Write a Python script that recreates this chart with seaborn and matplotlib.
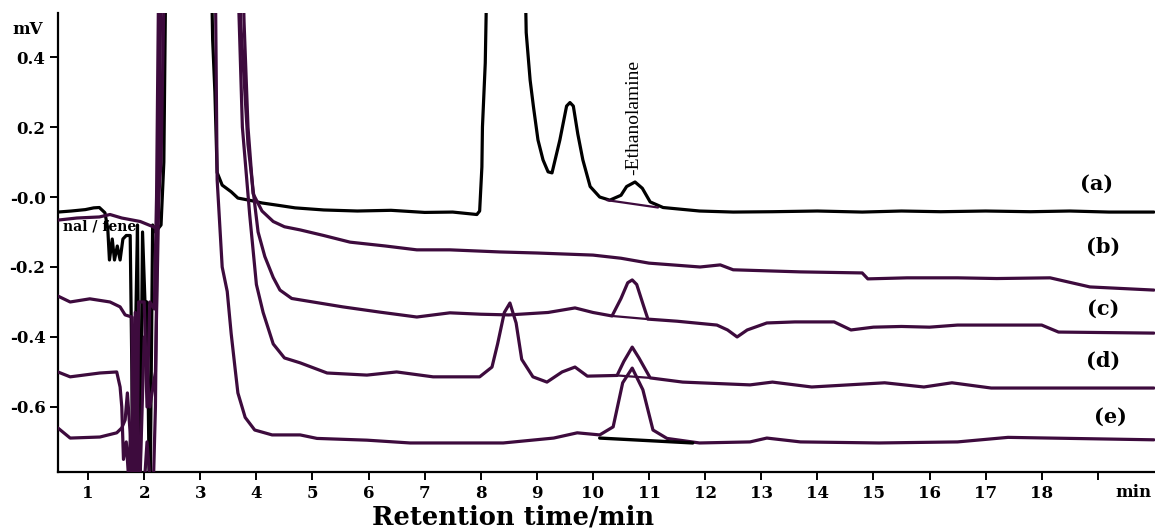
import matplotlib
matplotlib.use("Agg")
import matplotlib.pyplot as plt
import matplotlib.transforms as mtransforms
import seaborn as sns

# ---------------- data (retention time / min, signal / mV) ----------------
a_time = [0.46,0.70,0.95,1.10,1.20,1.30,1.35,1.38,1.43,1.47,1.52,1.57,1.62,1.68,1.75,1.78,1.80,1.85,1.88,1.92,
          1.97,2.02,2.05,2.10,2.15,2.20,2.30,2.35,2.40,2.45,3.10,3.17,3.22,3.26,3.30,3.39,3.55,3.67,3.90,4.10,
          4.40,4.69,5.20,5.80,6.40,7.00,7.50,7.93,7.98,8.02,8.03,8.08,8.15,8.75,8.81,8.88,8.94,9.02,9.11,9.20,
          9.27,9.41,9.53,9.59,9.65,9.73,9.82,9.95,10.12,10.30,10.50,10.60,10.75,10.88,11.02,11.25,11.90,12.50,
          13.20,14.00,14.80,15.50,16.20,17.00,17.80,18.50,19.20,20.00]
a_mv = [-0.043,-0.040,-0.036,-0.031,-0.030,-0.045,-0.090,-0.180,-0.120,-0.180,-0.140,-0.180,-0.120,-0.110,-0.110,
        -0.500,-0.950,-0.350,-0.080,-0.950,-0.100,-0.330,-0.300,-0.950,-0.080,-0.100,-0.080,0.100,0.900,1.000,
        1.000,0.900,0.450,0.300,0.070,0.034,0.015,-0.003,-0.010,-0.017,-0.024,-0.031,-0.037,-0.040,-0.038,
        -0.044,-0.043,-0.050,-0.040,0.086,0.200,0.383,1.000,1.000,0.470,0.334,0.257,0.163,0.106,0.072,
        0.069,0.163,0.260,0.270,0.260,0.180,0.106,0.030,0.000,-0.009,0.005,0.030,0.043,0.025,-0.014,
        -0.030,-0.040,-0.043,-0.042,-0.040,-0.043,-0.040,-0.042,-0.040,-0.042,-0.040,-0.043,-0.043]

b_time = [0.46,0.80,1.20,1.39,1.60,1.93,2.16,2.22,2.30,2.40,3.70,3.78,3.85,3.94,4.10,4.30,4.50,4.78,5.20,5.67,
          6.30,6.86,7.45,8.34,9.00,10.00,10.50,11.00,11.91,12.27,12.50,13.70,14.80,14.90,15.60,16.50,17.20,
          18.15,18.86,20.00]
b_mv = [-0.066,-0.060,-0.057,-0.050,-0.060,-0.070,-0.085,-0.090,0.100,1.000,1.000,0.500,0.200,0.010,-0.040,
        -0.070,-0.085,-0.094,-0.110,-0.129,-0.140,-0.151,-0.151,-0.157,-0.160,-0.166,-0.175,-0.189,-0.200,
        -0.194,-0.208,-0.214,-0.217,-0.234,-0.231,-0.231,-0.233,-0.231,-0.257,-0.266]

c_time = [0.46,0.68,1.03,1.39,1.57,1.66,1.78,1.80,1.84,1.87,1.90,2.00,2.05,2.10,2.18,2.22,2.28,2.38,3.62,3.72,
          3.85,3.97,4.03,4.15,4.30,4.42,4.63,4.78,5.54,6.20,6.86,7.45,8.00,8.50,9.20,9.68,10.00,10.34,10.50,
          10.62,10.70,10.78,10.90,10.98,11.50,12.21,12.40,12.57,12.75,13.10,13.60,14.30,14.60,15.00,15.50,
          16.00,16.50,18.00,18.30,20.00]
c_mv = [-0.283,-0.300,-0.291,-0.300,-0.314,-0.337,-0.343,-0.950,-0.330,-0.950,-0.300,-0.300,-0.600,-0.300,
        -0.320,0.000,1.000,1.000,1.000,0.500,0.150,-0.020,-0.100,-0.170,-0.230,-0.266,-0.290,-0.294,-0.314,
        -0.329,-0.343,-0.331,-0.335,-0.337,-0.330,-0.317,-0.330,-0.340,-0.290,-0.245,-0.237,-0.250,-0.310,
        -0.349,-0.355,-0.366,-0.380,-0.400,-0.380,-0.360,-0.357,-0.357,-0.380,-0.372,-0.370,-0.372,-0.366,
        -0.366,-0.386,-0.389]

d_time = [0.46,0.68,1.21,1.51,1.57,1.60,1.63,1.68,1.72,1.76,1.80,1.85,1.90,2.00,2.10,2.20,2.26,2.32,3.50,3.60,
          3.75,3.88,4.00,4.12,4.30,4.50,4.78,5.26,5.97,6.50,7.15,7.98,8.20,8.30,8.42,8.52,8.63,8.73,8.93,9.18,
          9.45,9.68,9.90,10.43,10.55,10.70,10.82,11.02,11.60,12.80,13.20,13.90,15.20,15.90,16.40,17.10,20.00]
d_mv = [-0.500,-0.514,-0.503,-0.500,-0.543,-0.600,-0.750,-0.700,-0.800,-0.660,-0.950,-0.500,-0.950,-0.400,
        -0.600,-0.500,0.000,1.000,1.000,1.000,0.200,-0.050,-0.250,-0.330,-0.420,-0.460,-0.474,-0.503,-0.509,
        -0.500,-0.514,-0.514,-0.486,-0.420,-0.330,-0.303,-0.360,-0.464,-0.514,-0.529,-0.500,-0.486,-0.512,
        -0.510,-0.470,-0.429,-0.460,-0.517,-0.529,-0.537,-0.529,-0.543,-0.531,-0.543,-0.531,-0.546,-0.546]

e_time = [0.46,0.68,1.21,1.51,1.60,1.66,1.70,1.76,1.80,1.88,1.95,2.05,2.15,2.20,2.30,2.40,3.20,3.27,3.30,3.39,
          3.48,3.55,3.62,3.67,3.80,3.97,4.28,4.78,5.08,5.97,6.74,7.45,8.40,9.30,9.72,10.12,10.36,10.53,10.70,
          10.89,11.07,11.32,11.90,12.80,13.10,13.70,15.10,16.50,17.40,20.00]
e_mv = [-0.660,-0.689,-0.686,-0.674,-0.660,-0.637,-0.560,-0.700,-0.950,-0.600,-0.950,-0.700,-0.900,-0.600,
        1.000,1.000,1.000,0.600,0.050,-0.200,-0.270,-0.390,-0.490,-0.560,-0.630,-0.666,-0.680,-0.680,-0.690,
        -0.695,-0.703,-0.703,-0.703,-0.689,-0.674,-0.680,-0.657,-0.531,-0.489,-0.551,-0.666,-0.690,-0.703,
        -0.700,-0.689,-0.700,-0.703,-0.700,-0.687,-0.694]

# integration baselines drawn under peaks
base_a_time, base_a_mv = [10.25, 11.16], [-0.009, -0.030]
base_c_time, base_c_mv = [10.34, 10.98], [-0.340, -0.349]
base_d_time, base_d_mv = [10.43, 11.02], [-0.510, -0.517]
base_e_time, base_e_mv = [10.12, 11.78], [-0.689, -0.703]

trace_labels = ["(a)", "(b)", "(c)", "(d)", "(e)"]
label_time = [18.98, 19.09, 19.09, 19.09, 19.22]
label_mv = [0.037, -0.143, -0.320, -0.469, -0.629]

x_ticks = list(range(1, 20))
x_ticklabels = [str(i) for i in range(1, 19)] + [""]
y_ticks = [0.4, 0.2, 0.0, -0.2, -0.4, -0.6]
y_ticklabels = ["0.4", "0.2", "-0.0", "-0.2", "-0.4", "-0.6"]

# ---------------- drawing ----------------
sns.set_style("ticks")
plt.rcParams["font.family"] = ["DejaVu Serif"]
plt.rcParams["text.color"] = "black"
plt.rcParams["axes.labelcolor"] = "black"
plt.rcParams["xtick.color"] = "black"
plt.rcParams["ytick.color"] = "black"

BLACK = "#000000"
PURPLE = "#3d0b3d"
LW = 2.3

fig = plt.figure(figsize=(11.55, 5.28), dpi=100)
ax = fig.add_axes([58 / 1155, 56 / 528, 1097 / 1155, 459 / 528])

ax.text(0.55, -0.083, "nal / fene", fontsize=10, fontweight="bold", ha="left", va="center",
        zorder=1, color="black")

for t, v, col in [(a_time, a_mv, BLACK), (b_time, b_mv, PURPLE), (c_time, c_mv, PURPLE),
                  (d_time, d_mv, PURPLE), (e_time, e_mv, PURPLE)]:
    sns.lineplot(x=t, y=v, ax=ax, color=col, lw=LW, estimator=None, sort=False, legend=False, zorder=3)

for t, v, col, lw in [(base_a_time, base_a_mv, PURPLE, 1.6), (base_c_time, base_c_mv, PURPLE, 1.6),
                      (base_d_time, base_d_mv, PURPLE, 1.6), (base_e_time, base_e_mv, BLACK, 2.4)]:
    sns.lineplot(x=t, y=v, ax=ax, color=col, lw=lw, estimator=None, sort=False, legend=False, zorder=3)

ax.set_xlim(0.463, 20.02)
ax.set_ylim(-0.786, 0.526)

for s in ["top", "right"]:
    ax.spines[s].set_visible(False)
for s in ["left", "bottom"]:
    ax.spines[s].set_linewidth(1.6)
    ax.spines[s].set_color("black")

ax.set_xticks(x_ticks)
ax.set_xticklabels(x_ticklabels)
ax.set_yticks(y_ticks)
ax.set_yticklabels(y_ticklabels)
ax.tick_params(axis="both", direction="out", length=6, width=1.4, labelsize=12, pad=3,
               colors="black", labelcolor="black")
for lbl in ax.get_xticklabels() + ax.get_yticklabels():
    lbl.set_fontweight("bold")
    lbl.set_color("black")

trans = mtransforms.blended_transform_factory(ax.transData, ax.transAxes)
ax.text(19.64, -0.045, "min", transform=trans, fontsize=12, fontweight="bold", ha="center", va="center",
        color="black")

ax.set_xlabel("Retention time/min", fontsize=18.5, fontweight="bold", color="black")
ax.xaxis.set_label_coords(0.415, -0.098)
ax.xaxis.label.set_va("center")
ax.set_ylabel("")

fig.text(28 / 1155, 1 - 30 / 528, "mV", fontsize=12, fontweight="bold", ha="center", va="center",
         color="black")

for lab, t, v in zip(trace_labels, label_time, label_mv):
    ax.text(t, v, lab, fontsize=15, fontweight="bold", ha="center", va="center", color="black")

ax.text(10.72, 0.062, "-Ethanolamine", rotation=90, fontsize=14, family="Liberation Serif",
        ha="center", va="bottom", color="black")

fig.savefig("out.png", dpi=100)
